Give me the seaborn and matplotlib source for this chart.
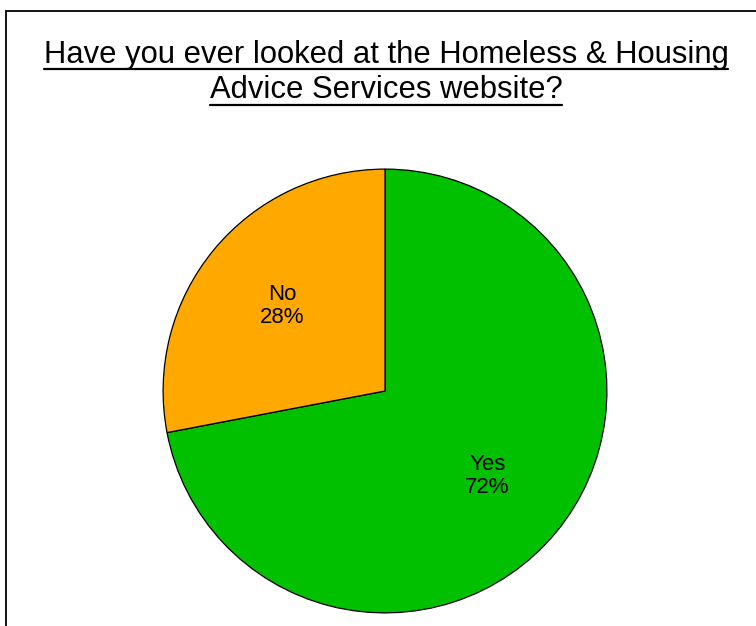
import matplotlib
matplotlib.use("Agg")
import matplotlib.pyplot as plt
import seaborn as sns
from matplotlib.patches import Rectangle

# Survey answers
categories = ["Yes", "No"]
shares = [72, 28]
colors = ["#00C000", "#FFA800"]
title = "Have you ever looked at the Homeless & Housing\nAdvice Services website?"

sns.set_theme(style="white")
plt.rcParams["font.family"] = ["Liberation Sans", "DejaVu Sans"]

W, H = 756, 626
fig = plt.figure(figsize=(W / 100, H / 100), dpi=100)
fig.patch.set_facecolor("white")

# Outer frame (open at the right and bottom edges of the canvas)
frame = Rectangle((6 / W, -0.5), 2.0, 1.5 - 11 / H, transform=fig.transFigure,
                  fill=False, edgecolor="#000000", linewidth=1.3)
fig.patches.append(frame)

# Pie area: centre (385, 391) px, radius 223 px
cx, cy, r = 385, 391, 223
ax = fig.add_axes([(cx - r) / W, (H - cy - r) / H, 2 * r / W, 2 * r / H])

labels_pct = {c: f"{c}\n{v}%" for c, v in zip(categories, shares)}
wedges, texts, autotexts = ax.pie(
    shares,
    colors=colors,
    startangle=90,
    counterclock=False,
    autopct=lambda p: "",
    pctdistance=0.6,
    wedgeprops=dict(edgecolor="black", linewidth=0.9),
)
for at, c in zip(autotexts, categories):
    at.set_text(labels_pct[c])
    at.set_fontsize(16)
    at.set_color("black")
    at.set_linespacing(1.15)
ax.set_xlim(-1.005, 1.005)
ax.set_ylim(-1.005, 1.005)
ax.set_aspect("equal")
ax.axis("off")

# Underlined two-line title
lines = title.split("\n")
baselines = [63.5, 97.5]
underlines = [68.5, 105]
title_texts = []
for line, yb in zip(lines, baselines):
    title_texts.append(fig.text(386 / W, 1 - yb / H, line, ha="center",
                                va="baseline", fontsize=22.3, color="black"))
fig.canvas.draw()
renderer = fig.canvas.get_renderer()
for txt, yu in zip(title_texts, underlines):
    bb = txt.get_window_extent(renderer)
    fig.add_artist(plt.Line2D([bb.x0 / W, bb.x1 / W], [1 - yu / H, 1 - yu / H],
                              transform=fig.transFigure, color="black", linewidth=1.6))

fig.savefig("out.png", dpi=100, facecolor="white")
